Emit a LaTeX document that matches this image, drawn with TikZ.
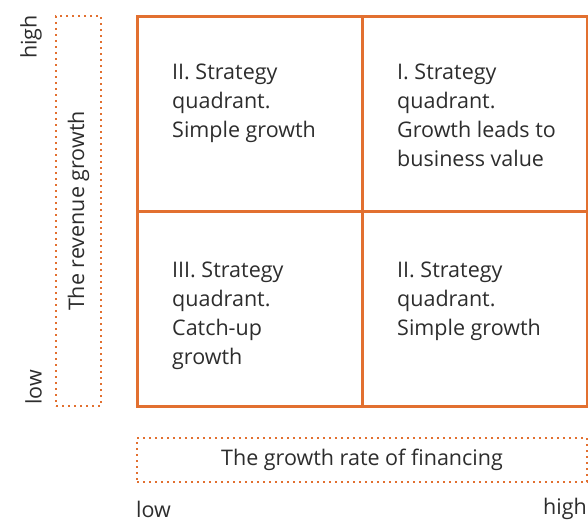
\documentclass[tikz,border=0pt]{standalone}
\usepackage{fontspec}
\setmainfont{Open Sans}
\definecolor{org}{RGB}{226,112,48}
\definecolor{txt}{RGB}{45,45,45}
\begin{document}
\begin{tikzpicture}[x=1pt,y=-1pt,
  quad/.style={draw=org,line width=2.6pt},
  dotbox/.style={draw=org,line width=2pt,dash pattern=on 2pt off 4pt},
  qtext/.style={anchor=north west,inner sep=0pt,align=left,text=txt,font=\fontsize{21.5}{29}\selectfont},
  lab/.style={inner sep=0pt,text=txt,font=\fontsize{21.5}{26}\selectfont}]
\useasboundingbox (0,0) rectangle (588,522);
\node[quad,minimum width=225pt,minimum height=195pt,inner sep=0pt,anchor=north west] (q2) at (136,15) {};
\node[quad,minimum width=225pt,minimum height=195pt,inner sep=0pt,anchor=north west] (q1) at (361,15) {};
\node[quad,minimum width=225pt,minimum height=195pt,inner sep=0pt,anchor=north west] (q3) at (136,210) {};
\node[quad,minimum width=225pt,minimum height=195pt,inner sep=0pt,anchor=north west] (q4) at (361,210) {};
\node[qtext] (t2) at (172,64) {II. Strategy\\quadrant.\\Simple growth};
\node[qtext] (t1) at (397,64) {I. Strategy\\quadrant.\\Growth leads to\\business value};
\node[qtext] (t3) at (172,262) {III. Strategy\\quadrant.\\Catch-up\\growth};
\node[qtext] (t4) at (397,262) {II. Strategy\\quadrant.\\Simple growth};
\node[dotbox,minimum width=45pt,minimum height=390pt,inner sep=0pt,anchor=north west] (vb) at (55,15) {};
\node[lab,rotate=90] (vt) at (vb.center) {The revenue growth};
\node[dotbox,minimum width=450pt,minimum height=44pt,inner sep=0pt,anchor=north west] (hb) at (136,437) {};
\node[lab] (ht) at (hb.center) {The growth rate of financing};
\node[lab,rotate=90,anchor=south east] (vhigh) at (42,15) {high};
\node[lab,rotate=90,anchor=south west] (vlow) at (42,405) {low};
\node[lab,anchor=west] (hlow) at (136,509) {low};
\node[lab,anchor=east] (hhigh) at (587,509) {high};
\end{tikzpicture}
\end{document}
